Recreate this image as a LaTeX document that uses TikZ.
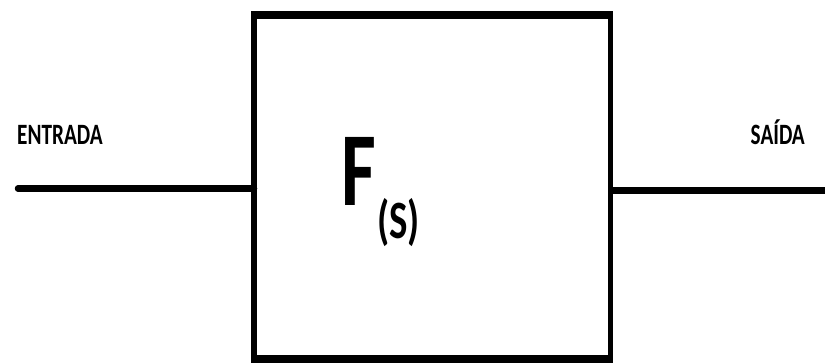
\documentclass[tikz,border=0pt]{standalone}
\usepackage{fontspec}
\setmainfont{Carlito}
\tikzset{
  lbl/.style={inner sep=0pt, font=\bfseries\fontsize{29.5}{30}\selectfont},
  wire/.style={line width=6.5pt, black},
}
\begin{document}
\begin{tikzpicture}[x=1pt,y=-1pt]
\useasboundingbox (0,0) rectangle (825,364);
\node[draw, line width=5.5pt, outer sep=0pt, minimum width=356.5pt, minimum height=344pt, inner sep=0pt] (box) at (432.25,187) {};
\draw[line width=8pt, shorten <=-2.75pt, shorten >=-2.75pt] (box.north west) -- (box.north east);
\draw[line width=8pt, shorten <=-2.75pt, shorten >=-2.75pt] (box.south west) -- (box.south east);
\coordinate (in) at (18,188.5);
\coordinate (out) at (825,190);
\draw[wire, line cap=round] (in) -- (in -| box.west);
\draw[wire, line width=7pt] (out -| box.east) -- (out);
\node[lbl, anchor=base west] (entrada) at (17,144) {\scalebox{0.72}[1]{ENTRADA}};
\node[lbl, anchor=base east] (saida) at (805,144) {\scalebox{0.72}[1]{SAÍDA}};
\node[inner sep=0pt, anchor=base west, font=\bfseries\fontsize{105}{105}\selectfont] (f) at (341,205) {\scalebox{0.72}[1]{F}};
\node[inner sep=0pt, anchor=base west, font=\bfseries\fontsize{54}{54}\selectfont] (s) at (377,238) {\scalebox{0.72}[1]{(S)}};
\end{tikzpicture}
\end{document}
